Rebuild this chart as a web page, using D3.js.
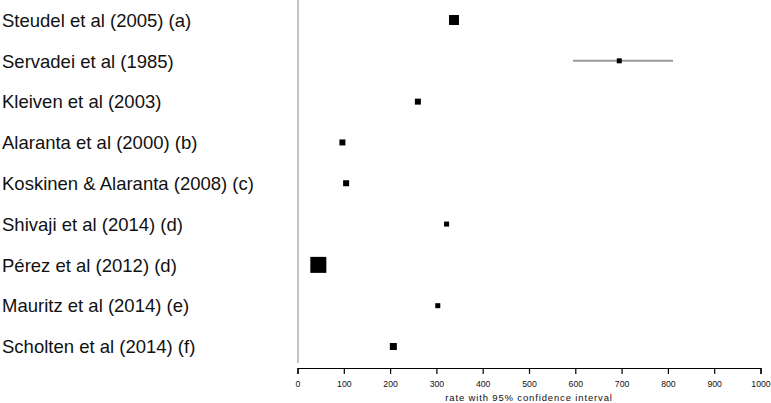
<!DOCTYPE html>
<html>
<head>
<meta charset="utf-8">
<script src="https://cdn.jsdelivr.net/npm/d3@7"></script>
<style>
  body { margin: 0; background: #fff; }
  svg { display: block; font-family: "Liberation Sans", Arial, sans-serif; }
  .label { font-size: 18.5px; fill: #111; }
  .axis text { font-size: 8.7px; fill: #111; }
  .axis path, .axis line { stroke: #000; stroke-width: 1.2; }
  .axis-title { font-size: 9.5px; letter-spacing: 0.85px; fill: #111; }
</style>
</head>
<body>
<svg id="chart" width="771" height="403"></svg>
<script>
'use strict';

// studies, top to bottom
var studies = [
    'Steudel et al (2005) (a)',
    'Servadei et al (1985)',
    'Kleiven et al (2003)',
    'Alaranta et al (2000) (b)',
    'Koskinen & Alaranta (2008) (c)',
    'Shivaji et al (2014) (d)',
    'Pérez et al (2012) (d)',
    'Mauritz et al (2014) (e)',
    'Scholten et al (2014) (f)'
];
var rates = [338, 695, 260, 97, 105, 322, 45, 303, 207];
var lower = [334, 595, 256, 94, 102, 319, 40, 300, 203];
var upper = [342, 811, 264, 100, 108, 325, 50, 306, 211];
// relative study weights (marker area)
var weights = [100, 25, 36, 36, 36, 25, 256, 25, 49];
var xTicks = [0, 100, 200, 300, 400, 500, 600, 700, 800, 900, 1000];

var svg = d3.select('#chart');

var x = d3.scaleLinear().domain([0, 1000]).range([297.5, 760.5]);
var y = d3.scalePoint().domain(studies).range([20, 346.5]);
var side = d3.scaleSqrt().domain([0, 256]).range([0, 16]);

// left reference line
svg.append('line')
    .attr('x1', x(0) + 0.5).attr('x2', x(0) + 0.5)
    .attr('y1', 0).attr('y2', 363)
    .attr('stroke', '#c4c4c4')
    .attr('stroke-width', 2);

// study labels
svg.append('g')
    .selectAll('text')
    .data(studies)
    .enter().append('text')
        .attr('class', 'label')
        .attr('x', 2)
        .attr('y', function(d) { return y(d) + 6.8; })
        .text(function(d) { return d; });

var rows = studies.map(function(s, i) {
    return { name: s, rate: rates[i], lo: lower[i], hi: upper[i], w: weights[i] };
});

// confidence intervals
svg.append('g')
    .selectAll('line')
    .data(rows)
    .enter().append('line')
        .attr('x1', function(d) { return x(d.lo); })
        .attr('x2', function(d) { return x(d.hi); })
        .attr('y1', function(d) { return y(d.name); })
        .attr('y2', function(d) { return y(d.name); })
        .attr('stroke', '#9a9a9a')
        .attr('stroke-width', 2);

// point estimates
svg.append('g')
    .selectAll('rect')
    .data(rows)
    .enter().append('rect')
        .attr('x', function(d) { return x(d.rate) - side(d.w) / 2; })
        .attr('y', function(d) { return y(d.name) - side(d.w) / 2; })
        .attr('width', function(d) { return side(d.w); })
        .attr('height', function(d) { return side(d.w); })
        .attr('fill', '#000');

// x axis
svg.append('g')
    .attr('class', 'axis')
    .attr('transform', 'translate(0,368)')
    .call(d3.axisBottom(x)
        .tickValues(xTicks)
        .tickFormat(d3.format('d'))
        .tickSize(6)
        .tickSizeOuter(6)
        .tickPadding(7));

svg.append('text')
    .attr('class', 'axis-title')
    .attr('x', (x(0) + x(1000)) / 2)
    .attr('y', 401)
    .attr('text-anchor', 'middle')
    .text('rate with 95% confidence interval');
</script>
</body>
</html>
